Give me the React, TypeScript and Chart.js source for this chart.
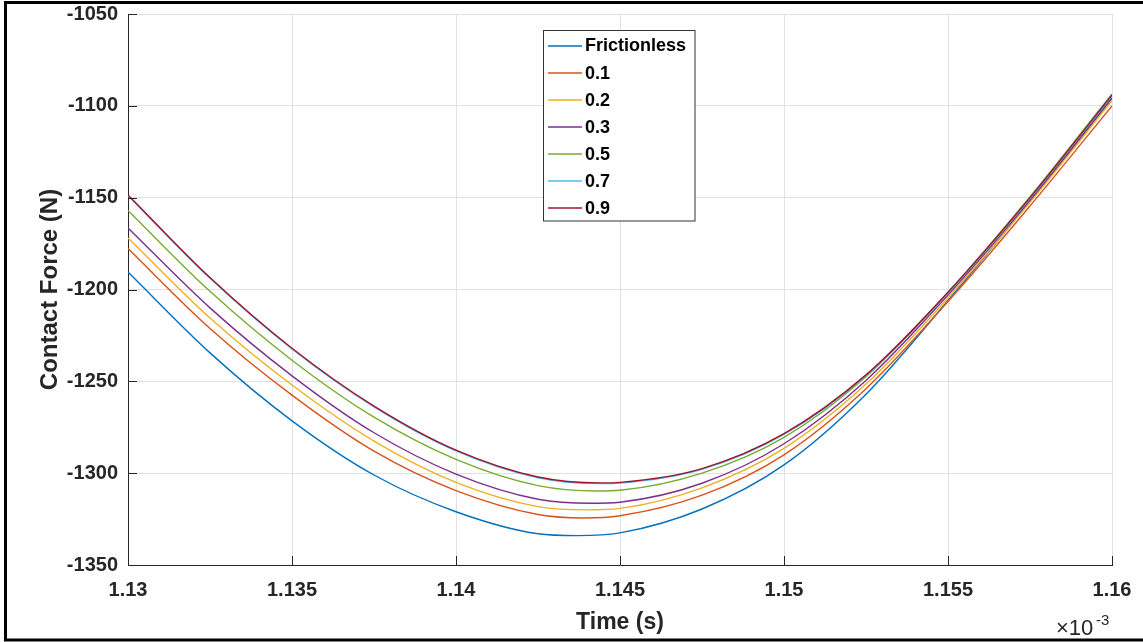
import React, { useEffect, useRef } from "react";
import { Chart, registerables } from "chart.js";
Chart.register(...registerables);

// Time axis values (displayed in units of 1e-3 s)
const timeMs = [1.13, 1.1325, 1.135, 1.1375, 1.14, 1.1425, 1.145, 1.1475, 1.15, 1.1525, 1.155, 1.1575, 1.16];

// Contact force (N) per friction coefficient, read at timeMs
const frictionless = [-1190.5, -1234.5, -1271.5, -1301, -1321, -1333, -1332.5, -1319.5, -1295.5, -1257, -1206, -1152, -1096];
const mu01 = [-1177.7, -1221.2, -1257.5, -1288, -1309.5, -1322.5, -1323.2, -1312, -1290, -1254, -1206.5, -1154.5, -1100];
const mu02 = [-1172, -1215.5, -1252, -1282.5, -1305, -1318.2, -1319.2, -1308, -1286.5, -1251.5, -1204.5, -1152.5, -1097.2];
const mu03 = [-1166.5, -1210, -1247, -1278, -1300.5, -1314.2, -1315.8, -1305.5, -1284, -1249.5, -1203, -1151.3, -1095.5];
const mu05 = [-1157, -1201, -1238.5, -1269.5, -1292.5, -1306.8, -1309.3, -1300, -1280.5, -1247.5, -1201.5, -1149.5, -1093.5];
const mu07 = [-1148.9, -1193.9, -1232.4, -1263.9, -1287.9, -1302.5, -1305.4, -1297.9, -1278.9, -1246.9, -1201.9, -1150.4, -1094.4];
const mu09 = [-1148.5, -1193.5, -1232, -1263.5, -1287.5, -1302.1, -1305, -1297.5, -1278.5, -1246.5, -1201.5, -1150, -1094];

// Minimum of each curve (time in 1e-3 s, force in N)
const minTimeMs = [1.1437, 1.1439, 1.144, 1.1441, 1.1443, 1.1444, 1.1444];
const minForce = [-1334, -1324.4, -1320, -1316.4, -1309.7, -1305.7, -1305.3];

const seriesLabels = ["Frictionless", "0.1", "0.2", "0.3", "0.5", "0.7", "0.9"];
const seriesValues = [frictionless, mu01, mu02, mu03, mu05, mu07, mu09];
const seriesColors = ["#0072BD", "#D95319", "#EDB120", "#7E2F8E", "#77AC30", "#4DBEEE", "#A2142F"];

const xTicks = [1.13, 1.135, 1.14, 1.145, 1.15, 1.155, 1.16];
const yTicks = [-1350, -1300, -1250, -1200, -1150, -1100, -1050];

const FONT = "'Liberation Sans', Arial, Helvetica, sans-serif";
const AXIS_COLOR = "#262626";

const decorPlugin = {
  id: "decor",
  afterDraw(chart: any) {
    const ctx = chart.ctx as CanvasRenderingContext2D;
    const { left, bottom } = chart.chartArea;
    const xs = chart.scales.x;
    const ys = chart.scales.y;
    ctx.save();
    // inward tick marks (left and bottom axes)
    ctx.strokeStyle = AXIS_COLOR;
    ctx.lineWidth = 1;
    ctx.beginPath();
    xTicks.forEach((v) => {
      const px = Math.round(xs.getPixelForValue(v)) + 0.5;
      ctx.moveTo(px, bottom);
      ctx.lineTo(px, bottom - 9);
    });
    yTicks.forEach((v) => {
      const py = Math.round(ys.getPixelForValue(v)) + 0.5;
      ctx.moveTo(left, py);
      ctx.lineTo(left + 9, py);
    });
    ctx.stroke();

    // legend box
    const bx = 543.5, by = 30.5, bw = 151.5, bh = 190.5;
    ctx.fillStyle = "#ffffff";
    ctx.fillRect(bx, by, bw, bh);
    ctx.strokeStyle = "#333333";
    ctx.lineWidth = 1;
    ctx.strokeRect(bx, by, bw, bh);
    ctx.font = `bold 18px ${FONT}`;
    ctx.textBaseline = "middle";
    ctx.textAlign = "left";
    seriesLabels.forEach((label, i) => {
      const cy = 45.5 + i * 27.15;
      ctx.strokeStyle = seriesColors[i];
      ctx.lineWidth = 1.5;
      ctx.beginPath();
      ctx.moveTo(548, Math.round(cy));
      ctx.lineTo(582, Math.round(cy));
      ctx.stroke();
      ctx.fillStyle = "#000000";
      ctx.fillText(label, 585, cy + 1);
    });

    // x-axis exponent
    ctx.fillStyle = AXIS_COLOR;
    ctx.textBaseline = "alphabetic";
    ctx.font = `22px ${FONT}`;
    ctx.fillText("\u00d710", 1056, 635);
    ctx.font = `15px ${FONT}`;
    ctx.fillText("-3", 1096, 625);

    // outer frame
    ctx.fillStyle = "#000000";
    ctx.fillRect(4, 1, 1139, 3);
    ctx.fillRect(4, 1, 3, 640);
    ctx.fillRect(4, 638.5, 1139, 3);
    ctx.restore();
  },
};

export default function App() {
  const ref = useRef<HTMLCanvasElement>(null);
  useEffect(() => {
    document.body.style.margin = "0";
    const canvas = ref.current;
    if (!canvas) return;
    const datasets = seriesLabels.map((label, i) => {
      const pts = timeMs.map((t, j) => ({ x: t, y: seriesValues[i][j] }));
      pts.push({ x: minTimeMs[i], y: minForce[i] });
      pts.sort((a, b) => a.x - b.x);
      return {
        label,
        data: pts,
        borderColor: seriesColors[i],
        backgroundColor: seriesColors[i],
        borderWidth: 1.4,
        pointRadius: 0,
        cubicInterpolationMode: "monotone",
        fill: false,
        order: seriesLabels.length - 1 - i,
      };
    });
    const chart = new Chart(canvas, {
      type: "line",
      data: { datasets },
      options: {
        responsive: false,
        maintainAspectRatio: false,
        devicePixelRatio: 1,
        animation: false,
        layout: { padding: { top: 14, right: 31, left: 0, bottom: 0 } },
        plugins: {
          legend: { display: false },
          tooltip: { enabled: false },
          title: { display: false },
        },
        scales: {
          x: {
            type: "linear",
            min: 1.13,
            max: 1.16,
            afterBuildTicks: (axis: any) => {
              axis.ticks = xTicks.map((v) => ({ value: v }));
            },
            afterFit: (axis: any) => {
              axis.height = 77;
              axis.paddingLeft = 0;
              axis.paddingRight = 0;
            },
            ticks: {
              autoSkip: false,
              maxRotation: 0,
              padding: 13,
              color: AXIS_COLOR,
              font: { family: FONT, size: 20, weight: "bold" },
              callback: (v: any) => String(Number(Number(v).toFixed(4))),
            },
            grid: { color: "#e0e0e0", lineWidth: 1, drawTicks: false },
            border: { display: true, color: AXIS_COLOR, width: 1 },
            title: {
              display: true,
              text: "Time (s)",
              color: AXIS_COLOR,
              font: { family: FONT, size: 23, weight: "bold" },
              padding: { top: 0, bottom: 6 },
            },
          },
          y: {
            type: "linear",
            min: -1350,
            max: -1050,
            afterBuildTicks: (axis: any) => {
              axis.ticks = yTicks.map((v) => ({ value: v }));
            },
            afterFit: (axis: any) => {
              axis.width = 128;
              axis.paddingTop = 0;
              axis.paddingBottom = 0;
            },
            ticks: {
              autoSkip: false,
              padding: 10,
              color: AXIS_COLOR,
              font: { family: FONT, size: 20, weight: "bold" },
              callback: (v: any) => String(v),
            },
            grid: { color: "#e0e0e0", lineWidth: 1, drawTicks: false },
            border: { display: true, color: AXIS_COLOR, width: 1 },
            title: {
              display: true,
              text: "Contact Force (N)",
              color: AXIS_COLOR,
              font: { family: FONT, size: 24, weight: "bold" },
              padding: { top: 36, bottom: 0 },
            },
          },
        },
      },
      plugins: [decorPlugin],
    } as any);
    return () => chart.destroy();
  }, []);
  return (
    <div style={{ position: "absolute", left: 0, top: 0, width: 1143, height: 642, background: "#ffffff" }}>
      <canvas ref={ref} width={1143} height={642} style={{ display: "block", width: 1143, height: 642 }} />
    </div>
  );
}
